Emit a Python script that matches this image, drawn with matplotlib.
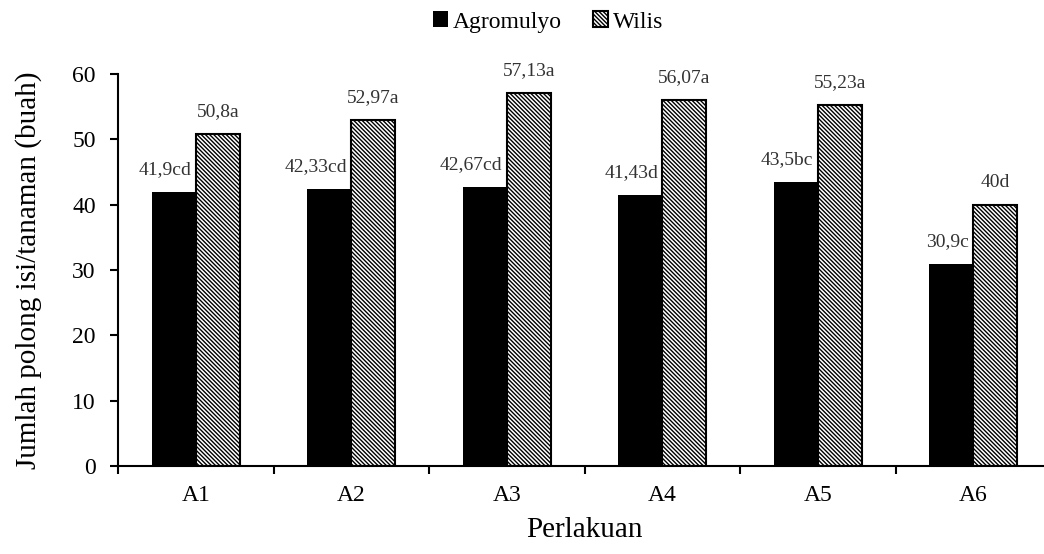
import matplotlib.pyplot as plt
import numpy as np

categories = ['A1', 'A2', 'A3', 'A4', 'A5', 'A6']
agromulyo = [41.9, 42.33, 42.67, 41.43, 43.5, 30.9]
wilis = [50.8, 52.97, 57.13, 56.07, 55.23, 40.0]
agromulyo_labels = ['41,9cd', '42,33cd', '42,67cd', '41,43d', '43,5bc', '30,9c']
wilis_labels = ['50,8a', '52,97a', '57,13a', '56,07a', '55,23a', '40d']

plt.rcParams['font.family'] = ['Liberation Serif', 'DejaVu Serif']
plt.rcParams['hatch.linewidth'] = 1.0

fig = plt.figure(figsize=(10.44, 5.54), dpi=100)
ax = fig.add_axes([118 / 1044, 88 / 554, 933 / 1044, 392 / 554])

x = np.arange(len(categories))
w = 0.284

b1 = ax.bar(x - w / 2, agromulyo, w, color='black', edgecolor='black', linewidth=0, label='Agromulyo')
b2 = ax.bar(x + w / 2, wilis, w, color='white', edgecolor='black', linewidth=1.5,
            hatch='\\' * 8, label='Wilis')

# value labels
for xi, v, t in zip(x, agromulyo, agromulyo_labels):
    ax.annotate(t, (xi, v), xytext=(-3, 10), textcoords='offset points',
                ha='right', va='bottom', fontsize=14, color='#333333')
for xi, v, t in zip(x, wilis, wilis_labels):
    ax.annotate(t, (xi + w / 2, v), xytext=(0, 10), textcoords='offset points',
                ha='center', va='bottom', fontsize=14, color='#333333')

ax.set_xlim(-0.5, 5.5)
ax.set_ylim(0, 60)
ax.set_yticks(range(0, 61, 10))
ax.tick_params(axis='y', direction='out', length=6, width=1.5, labelsize=17, pad=10)

# tick marks between groups, labels at group centers
ax.set_xticks(np.arange(-0.5, 5.6, 1))
ax.set_xticklabels([])
ax.set_xticks(x, minor=True)
ax.set_xticklabels(categories, minor=True)
ax.tick_params(axis='x', which='major', direction='out', length=6, width=1.5)
ax.tick_params(axis='x', which='minor', length=0, labelsize=17, pad=14)

for s in ['top', 'right']:
    ax.spines[s].set_visible(False)
for s in ['left', 'bottom']:
    ax.spines[s].set_linewidth(1.5)

ax.set_ylabel('Jumlah polong isi/tanaman (buah)', fontsize=21)
ax.yaxis.set_label_coords(-0.081, 0.5)
ax.set_xlabel('Perlakuan', fontsize=21)
ax.xaxis.set_label_coords(466 / 933, -0.13)

fig.legend(handles=[b1, b2], loc='center', bbox_to_anchor=(548 / 1044, 1 - 22 / 554),
           ncol=2, frameon=False, prop={'family': 'Liberation Serif', 'size': 17},
           handlelength=0.65, handleheight=0.65, handletextpad=0.2, columnspacing=1.3)

fig.savefig('out.png', dpi=100)
